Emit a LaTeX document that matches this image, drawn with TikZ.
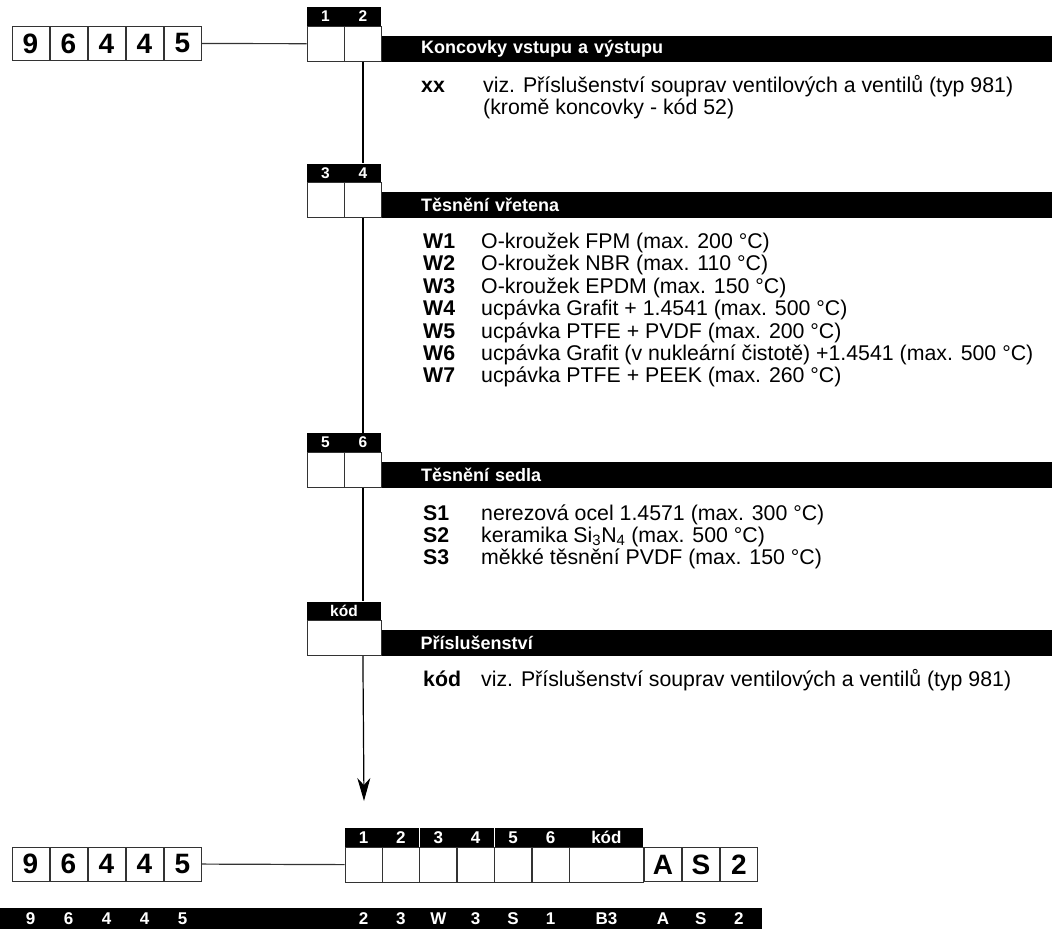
\documentclass[tikz,border=0pt]{standalone}
\usepackage{fontspec}
\setmainfont{Liberation Sans}
\usetikzlibrary{positioning,arrows.meta}

\tikzset{
  digit/.style={draw=black!80,line width=1pt,fill=white,minimum width=37pt,minimum height=34pt,
                inner sep=0pt,font=\fontsize{28}{28}\selectfont\bfseries},
  slot/.style={draw=black!80,line width=1pt,fill=white,minimum width=37pt,minimum height=35pt,inner sep=0pt},
  slothead/.style={fill=black,text=white,minimum width=37pt,minimum height=18.5pt,inner sep=0pt,
                   font=\fontsize{15.5}{15.5}\selectfont\bfseries},
  titlebar/.style={fill=black,text=white,anchor=south west,minimum height=26pt,inner xsep=39pt,
                   inner ysep=0pt,text width=592pt,align=left,font=\fontsize{18}{18}\selectfont\bfseries},
  itemlist/.style={anchor=base west,inner sep=0pt,font=\fontsize{21.3}{22.4}\selectfont},
  sumbar/.style={fill=black,anchor=north west,minimum width=762pt,minimum height=21pt,inner sep=0pt},
  sumlabel/.style={text=white,inner sep=0pt,font=\fontsize{17}{17}\selectfont\bfseries},
  wire/.style={draw=black!80,line width=1.2pt},
  >={Stealth[length=23pt,width=13pt,inset=7pt]}
}

\begin{document}
\begin{tikzpicture}[x=1pt,y=-1pt]
  \useasboundingbox (0,0) rectangle (1053,929);

  % order code, top
  \node[digit] (n1) at (30.5,43.5) {9};
  \node[digit,right=0pt of n1] (n2) {6};
  \node[digit,right=0pt of n2] (n3) {4};
  \node[digit,right=0pt of n3] (n4) {4};
  \node[digit,right=0pt of n4] (n5) {5};

  % end pieces
  \node[slothead] (h1) at (325.5,16.25) {1};
  \node[slothead,right=0pt of h1] (h2) {2};
  \node[slot,below=0pt of h1] (c1) {};
  \node[slot,below=0pt of h2] (c2) {};
  \node[titlebar] (t1) at (c2.south east) {Koncovky vstupu a výstupu};
  \node[itemlist] (l1) at (421,92) {\begin{tabular}[t]{@{}p{62pt}@{}l@{}}
    \textbf{xx} & viz. Příslušenství souprav ventilových a ventilů (typ 981)\\
                & (kromě koncovky - kód 52)
  \end{tabular}};

  % stem seal
  \node[slothead] (h3) at (325.5,172.75) {3};
  \node[slothead,right=0pt of h3] (h4) {4};
  \node[slot,below=0pt of h3] (c3) {};
  \node[slot,below=0pt of h4] (c4) {};
  \node[titlebar] (t2) at (c4.south east) {Těsnění vřetena};
  \node[itemlist] (l2) at (423,248.5) {\begin{tabular}[t]{@{}p{58pt}@{}l@{}}
    \textbf{W1} & O-kroužek FPM (max. 200 °C)\\
    \textbf{W2} & O-kroužek NBR (max. 110 °C)\\
    \textbf{W3} & O-kroužek EPDM (max. 150 °C)\\
    \textbf{W4} & ucpávka Grafit + 1.4541 (max. 500 °C)\\
    \textbf{W5} & ucpávka PTFE + PVDF (max. 200 °C)\\
    \textbf{W6} & ucpávka Grafit (v nukleární čistotě) +1.4541 (max. 500 °C)\\
    \textbf{W7} & ucpávka PTFE + PEEK (max. 260 °C)
  \end{tabular}};

  % seat seal
  \node[slothead] (h5) at (325.5,442.25) {5};
  \node[slothead,right=0pt of h5] (h6) {6};
  \node[slot,below=0pt of h5] (c5) {};
  \node[slot,below=0pt of h6] (c6) {};
  \node[titlebar] (t3) at (c6.south east) {Těsnění sedla};
  \node[itemlist] (l3) at (423,520) {\begin{tabular}[t]{@{}p{58pt}@{}l@{}}
    \textbf{S1} & nerezová ocel 1.4571 (max. 300 °C)\\
    \textbf{S2} & keramika Si\textsubscript{3}N\textsubscript{4} (max. 500 °C)\\
    \textbf{S3} & měkké těsnění PVDF (max. 150 °C)
  \end{tabular}};

  % accessories
  \node[slothead,minimum width=74pt] (hk) at (344,610.75) {kód};
  \node[slot,minimum width=74pt,below=0pt of hk] (ck) {};
  \node[titlebar] (t4) at (ck.south east) {Příslušenství};
  \node[itemlist] (l4) at (423,686.5) {\begin{tabular}[t]{@{}p{58pt}@{}l@{}}
    \textbf{kód} & viz. Příslušenství souprav ventilových a ventilů (typ 981)
  \end{tabular}};

  \coordinate (tip) at (364,801);

  % order code, bottom
  \node[digit] (m1) at (30.5,864) {9};
  \node[digit,right=0pt of m1] (m2) {6};
  \node[digit,right=0pt of m2] (m3) {4};
  \node[digit,right=0pt of m3] (m4) {4};
  \node[digit,right=0pt of m4] (m5) {5};

  \node[slothead,font=\fontsize{17}{17}\selectfont\bfseries] (g1) at (363.5,837.25) {1};
  \node[slothead,font=\fontsize{17}{17}\selectfont\bfseries,right=0pt of g1] (g2) {2};
  \node[slothead,font=\fontsize{17}{17}\selectfont\bfseries,right=0pt of g2] (g3) {3};
  \node[slothead,font=\fontsize{17}{17}\selectfont\bfseries,right=0pt of g3] (g4) {4};
  \node[slothead,font=\fontsize{17}{17}\selectfont\bfseries,right=0pt of g4] (g5) {5};
  \node[slothead,font=\fontsize{17}{17}\selectfont\bfseries,right=0pt of g5] (g6) {6};
  \node[slothead,font=\fontsize{17}{17}\selectfont\bfseries,minimum width=74pt,right=0pt of g6] (gk) {kód};
  \node[slot,below=0pt of g1] (r1) {};
  \node[slot,below=0pt of g2] (r2) {};
  \node[slot,below=0pt of g3] (r3) {};
  \node[slot,below=0pt of g4] (r4) {};
  \node[slot,below=0pt of g5] (r5) {};
  \node[slot,below=0pt of g6] (r6) {};
  \node[slot,minimum width=74pt,below=0pt of gk] (rk) {};
  \node[digit,right=0pt of rk] (ra) {A};
  \node[digit,right=0pt of ra] (rs) {S};
  \node[digit,right=0pt of rs] (rn) {2};

  % example order code
  \node[sumbar] (sum) at (0,908) {};
  \node[sumlabel] at (m1 |- sum) {9};
  \node[sumlabel] at (m2 |- sum) {6};
  \node[sumlabel] at (m3 |- sum) {4};
  \node[sumlabel] at (m4 |- sum) {4};
  \node[sumlabel] at (m5 |- sum) {5};
  \node[sumlabel] at (r1 |- sum) {2};
  \node[sumlabel] at (r2 |- sum) {3};
  \node[sumlabel] at (r3 |- sum) {W};
  \node[sumlabel] at (r4 |- sum) {3};
  \node[sumlabel] at (r5 |- sum) {S};
  \node[sumlabel] at (r6 |- sum) {1};
  \node[sumlabel] at (rk |- sum) {B3};
  \node[sumlabel] at (ra |- sum) {A};
  \node[sumlabel] at (rs |- sum) {S};
  \node[sumlabel] at (rn |- sum) {2};

  % connectors
  \draw[wire] (n5) -- (c1);
  \draw[wire] (m5) -- (r1);
  \draw[line width=1.2pt] (c2.south) -- (h4.north);
  \draw[line width=1.2pt] (c4.south) -- (h6.north);
  \draw[line width=1.2pt] (c6.south) -- (c6.south |- hk.north);
  \draw[line width=1.2pt,->] (ck.south -| c6) -- (tip);
\end{tikzpicture}
\end{document}
